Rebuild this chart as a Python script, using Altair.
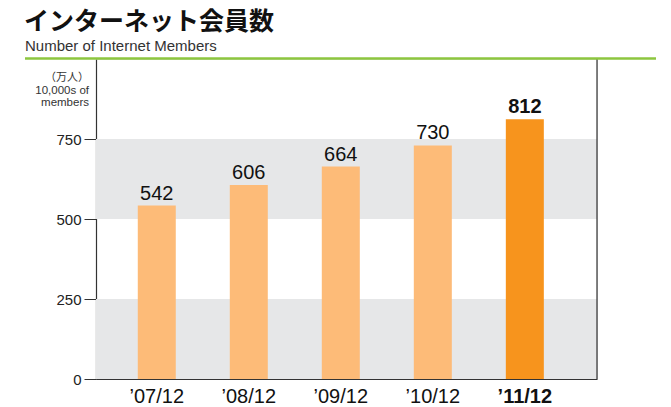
import altair as alt
import pandas as pd

categories = ["’07/12", "’08/12", "’09/12", "’10/12", "’11/12"]
values = [542, 606, 664, 730, 812]
highlight = [False, False, False, False, True]
band_lo = [0, 500]
band_hi = [250, 750]
y_ticks = [0, 250, 500, 750]

W, H = 501, 320
bars_df = pd.DataFrame({"cat": categories, "val": values, "hl": highlight})
bands_df = pd.DataFrame({"lo": band_lo, "hi": band_hi})
one = pd.DataFrame({"k": [0]})

FONT = "Liberation Sans"
JP = "Noto Sans CJK JP"

xscale = alt.Scale(domain=categories, paddingInner=0.587, paddingOuter=0.516, align=0.44)
yscale = alt.Scale(domain=[0, 1000], nice=False)

yaxis = alt.Axis(values=y_ticks, labelFont=FONT, labelFontSize=15, labelColor="#222",
                 tickSize=12, tickColor="#333", domainColor="#333", domainWidth=1.2,
                 labelPadding=3, grid=False)

bands = alt.Chart(bands_df).mark_rect(color="#e6e7e8").encode(
    x=alt.value(0), x2=alt.value(W),
    y=alt.Y("lo:Q", scale=yscale, axis=yaxis, title=None), y2="hi:Q")

base = alt.Chart(bars_df)
bars = base.mark_bar().encode(
    x=alt.X("cat:N", scale=xscale, sort=categories, title=None,
            axis=alt.Axis(labelAngle=0, labelFont=FONT, labelFontSize=20, labelColor="#111",
                          labelPadding=7, ticks=False, domainColor="#333", domainWidth=1.2,
                          labelFontWeight=alt.condition("datum.value == '’11/12'", alt.value("bold"), alt.value("normal")))),
    y=alt.Y("val:Q", scale=yscale, title=None, axis=yaxis),
    color=alt.condition("datum.hl", alt.value("#f7941d"), alt.value("#fdbb78")))

labels_n = base.transform_filter("!datum.hl").mark_text(
    font=FONT, fontSize=20, baseline="alphabetic", dy=-6, color="#111").encode(
    x=alt.X("cat:N", scale=xscale, sort=categories), y=alt.Y("val:Q", scale=yscale), text="val:Q")
labels_b = base.transform_filter("datum.hl").mark_text(
    font=FONT, fontSize=20, fontWeight="bold", baseline="alphabetic", dy=-6, color="#111").encode(
    x=alt.X("cat:N", scale=xscale, sort=categories), y=alt.Y("val:Q", scale=yscale), text="val:Q")

right_rule = alt.Chart(one).mark_rule(color="#333", strokeWidth=1.2).encode(
    x=alt.value(W), y=alt.value(0), y2=alt.value(H))
green = alt.Chart(one).mark_rule(color="#8dc63f", strokeWidth=2.5).encode(
    x=alt.value(-71), x2=alt.value(560), y=alt.value(-0.5))

def txt(s, font, size, x, y, align="left", weight="normal", color="#333"):
    return alt.Chart(one).mark_text(text=s, font=font, fontSize=size, fontWeight=weight,
                                    align=align, baseline="alphabetic", color=color).encode(
        x=alt.value(x), y=alt.value(y))

title = txt("インターネット会員数", JP, 25, -72, -29, weight="bold", color="#111")
subtitle = txt("Number of Internet Members", FONT, 15, -71, -8)
unit1 = txt("（万人）", JP, 11, -7, 22, align="right")
unit2 = txt("10,000s of", FONT, 11.5, -7, 35, align="right")
unit3 = txt("members", FONT, 11.5, -7, 47, align="right")

chart = alt.layer(bands, bars, labels_n, labels_b, right_rule, green, title, subtitle, unit1, unit2, unit3).properties(
    width=W, height=H,
    autosize=alt.AutoSizeParams(type="none"),
    padding={"left": 88, "top": 51, "right": 66, "bottom": 27},
).configure_view(stroke=None).configure(background="white")

chart.save("out.html", embed_options={"renderer": "svg", "actions": False})
